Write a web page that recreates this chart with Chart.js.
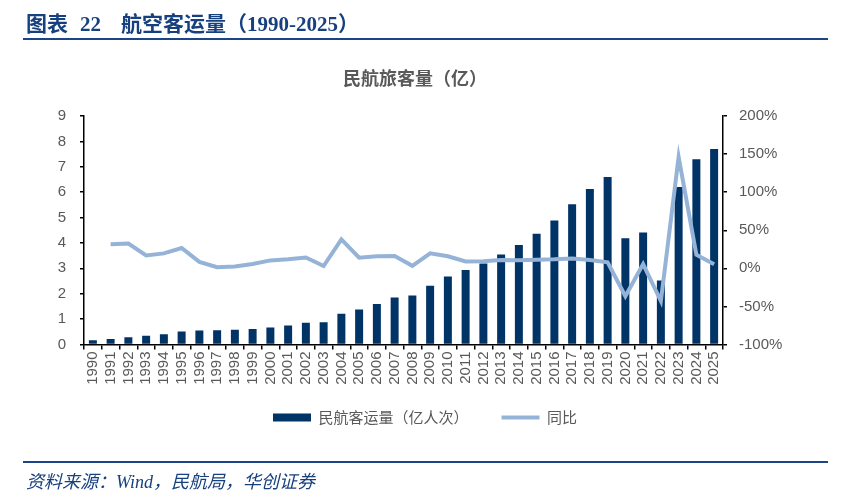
<!DOCTYPE html>
<html>
<head>
<meta charset="utf-8">
<script src="https://cdn.jsdelivr.net/npm/chart.js@4"></script>
<style>
  html, body { margin: 0; padding: 0; background: #ffffff; }
  #wrap { position: relative; width: 850px; height: 499px; overflow: hidden; background: #ffffff; }
  #c { position: absolute; left: 0; top: 0; }
  .hdr { position: absolute; left: 26px; top: 7px; font-family: "Liberation Serif", "Noto Sans CJK SC", serif; font-weight: bold; font-size: 21px; color: #17407e; white-space: nowrap; }
  .rule { position: absolute; left: 23px; width: 805px; height: 2.5px; background: #1b4587; }
  .ctitle { position: absolute; left: 0; width: 830px; top: 64px; text-align: center; font-family: "Noto Sans CJK SC", sans-serif; font-weight: bold; font-size: 18px; color: #595959; }
  .src { position: absolute; left: 26px; top: 467px; font-family: "Liberation Serif", "Noto Sans CJK SC", serif; font-style: italic; font-size: 18px; color: #17407e; white-space: nowrap; }
</style>
</head>
<body>
<div id="wrap">
  <canvas id="c" width="850" height="499"></canvas>
  <div class="hdr"><span>图表</span><span style="margin-left:12px">22</span><span style="margin-left:20px">航空客运量（1990-2025）</span></div>
  <div class="rule" style="top:37.5px"></div>
  <div class="ctitle">民航旅客量（亿）</div>
  <div class="rule" style="top:460.5px"></div>
  <div class="src">资料来源：Wind，民航局，华创证券</div>
</div>
<script>
const years = ["1990","1991","1992","1993","1994","1995","1996","1997","1998","1999","2000","2001","2002","2003","2004","2005","2006","2007","2008","2009","2010","2011","2012","2013","2014","2015","2016","2017","2018","2019","2020","2021","2022","2023","2024","2025"];
const passengers = [0.17,0.22,0.29,0.34,0.40,0.51,0.55,0.56,0.58,0.61,0.67,0.75,0.86,0.88,1.21,1.38,1.60,1.85,1.93,2.31,2.68,2.93,3.19,3.54,3.92,4.36,4.88,5.52,6.12,6.60,4.18,4.41,2.52,6.20,7.30,7.70];
const growth = [null,31.5,32.5,17.0,19.6,26.7,8.5,1.4,2.3,5.6,10.4,11.9,14.2,3.0,38.0,14.0,15.9,16.2,3.3,19.7,15.8,9.1,9.2,10.8,10.7,11.4,11.9,13.0,10.9,7.9,-36.7,5.5,-42.9,146.1,17.9,5.5];
const leftTicks = [0,1,2,3,4,5,6,7,8,9];
const rightTicks = [-100,-50,0,50,100,150,200];
const seriesNames = ["民航客运量（亿人次）","同比"];

const tickFont = { family: "Liberation Sans, Arial, sans-serif", size: 15 };
const tickColor = "#595959";

new Chart(document.getElementById("c"), {
  type: "bar",
  data: {
    labels: years,
    datasets: [
      {
        type: "bar",
        label: seriesNames[0],
        data: passengers,
        backgroundColor: "#003366",
        borderWidth: 0,
        barPercentage: 0.45,
        categoryPercentage: 1.0,
        yAxisID: "y",
        order: 1,
        pointStyle: "rect"
      },
      {
        type: "line",
        label: seriesNames[1],
        data: growth,
        borderColor: "#95b3d7",
        backgroundColor: "#95b3d7",
        borderWidth: 4,
        pointRadius: 0,
        tension: 0,
        spanGaps: false,
        yAxisID: "y1",
        order: 0,
        pointStyle: "line"
      }
    ]
  },
  options: {
    responsive: false,
    animation: false,
    devicePixelRatio: 1,
    layout: { padding: { top: 116, left: 0, right: 0, bottom: 64 } },
    plugins: {
      title: { display: false },
      tooltip: { enabled: false },
      legend: {
        display: true,
        position: "bottom",
        labels: {
          usePointStyle: true,
          pointStyleWidth: 38,
          boxHeight: 8,
          padding: 33,
          color: "#595959",
          font: { family: "Noto Sans CJK SC, sans-serif", size: 15 },
          sort: (a, b) => a.datasetIndex - b.datasetIndex
        }
      }
    },
    scales: {
      x: {
        offset: true,
        grid: { display: true, drawOnChartArea: false, drawTicks: true, tickLength: 5, color: "#000000", lineWidth: 1.5, offset: true },
        border: { display: true, color: "#000000", width: 1.5 },
        ticks: { color: tickColor, font: tickFont, minRotation: 90, maxRotation: 90, autoSkip: false, padding: 2 },
        afterFit: (s) => { s.height = 32.5; s._computeLabelArea = () => null; }
      },
      y: {
        position: "left",
        min: 0, max: 9,
        afterBuildTicks: (s) => { s.ticks = leftTicks.map(v => ({ value: v })); },
        grid: { display: true, drawOnChartArea: false, drawTicks: true, tickLength: 4, color: "#000000", lineWidth: 1.5 },
        border: { display: true, color: "#000000", width: 1.5 },
        ticks: { color: tickColor, font: tickFont, padding: 14 },
        afterFit: (s) => { s.width = 84; }
      },
      y1: {
        position: "right",
        min: -100, max: 200,
        afterBuildTicks: (s) => { s.ticks = rightTicks.map(v => ({ value: v })); },
        grid: { display: true, drawOnChartArea: false, drawTicks: true, tickLength: 4, color: "#000000", lineWidth: 1.5 },
        border: { display: true, color: "#000000", width: 1.5 },
        ticks: { color: tickColor, font: tickFont, padding: 12, callback: (v) => v + "%" },
        afterFit: (s) => { s.width = 127; }
      }
    }
  }
});
</script>
</body>
</html>
